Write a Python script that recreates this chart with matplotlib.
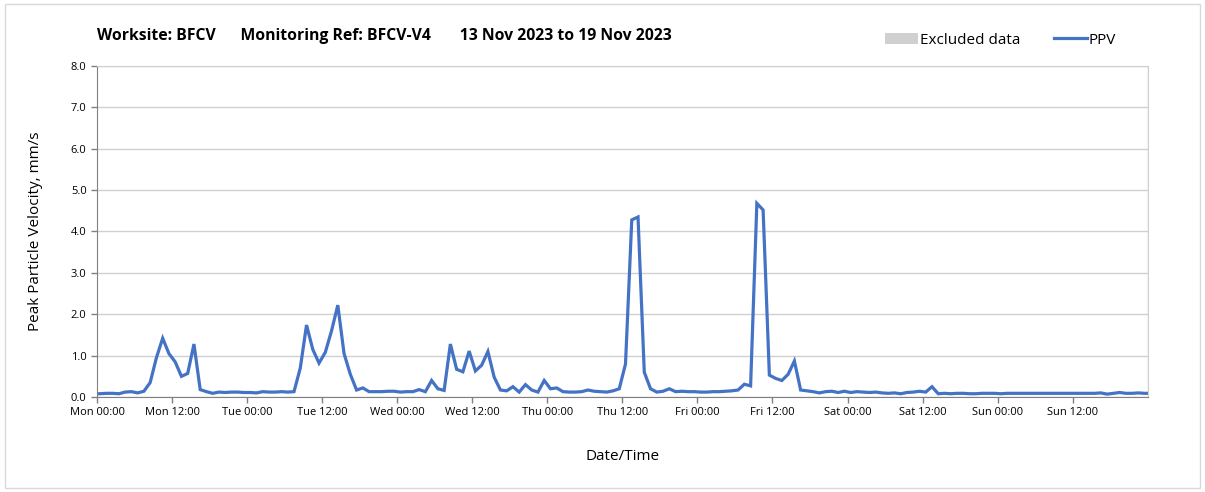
import numpy as np
import matplotlib
matplotlib.use("Agg")
import matplotlib.pyplot as plt
from matplotlib.patches import Patch, Rectangle
from matplotlib.lines import Line2D

plt.rcParams['font.family'] = ['Open Sans', 'DejaVu Sans']

# hours since Mon 00:00 (readings logged on the half hour), PPV in mm/s
hours = np.arange(169) + 0.5
ppv = [
    0.08, 0.09, 0.09, 0.08, 0.12, 0.13, 0.10, 0.14, 0.35, 0.95, 1.42, 1.05,
    0.85, 0.50, 0.57, 1.28, 0.18, 0.13, 0.09, 0.12, 0.11, 0.12, 0.12, 0.11,
    0.11, 0.10, 0.13, 0.12, 0.12, 0.13, 0.12, 0.13, 0.70, 1.74, 1.15, 0.82,
    1.08, 1.60, 2.22, 1.05, 0.55, 0.17, 0.22, 0.13, 0.13, 0.13, 0.14, 0.14,
    0.12, 0.13, 0.13, 0.18, 0.13, 0.40, 0.20, 0.16, 1.28, 0.67, 0.61, 1.11,
    0.63, 0.77, 1.10, 0.48, 0.17, 0.15, 0.25, 0.12, 0.30, 0.17, 0.12, 0.40,
    0.20, 0.22, 0.13, 0.12, 0.12, 0.13, 0.17, 0.14, 0.13, 0.12, 0.15, 0.20,
    0.80, 4.28, 4.35, 0.60, 0.20, 0.12, 0.14, 0.20, 0.13, 0.14, 0.13, 0.13,
    0.12, 0.12, 0.13, 0.13, 0.14, 0.15, 0.17, 0.31, 0.27, 4.68, 4.52, 0.53,
    0.45, 0.40, 0.55, 0.87, 0.17, 0.15, 0.13, 0.10, 0.13, 0.14, 0.11, 0.14,
    0.11, 0.13, 0.12, 0.11, 0.12, 0.10, 0.09, 0.10, 0.08, 0.11, 0.12, 0.14,
    0.12, 0.25, 0.08, 0.09, 0.08, 0.09, 0.09, 0.08, 0.08, 0.09, 0.09, 0.09,
    0.08, 0.09, 0.09, 0.09, 0.09, 0.09, 0.09, 0.09, 0.09, 0.09, 0.09, 0.09,
    0.09, 0.09, 0.09, 0.09, 0.10, 0.07, 0.09, 0.11, 0.09, 0.09, 0.10, 0.09,
    0.09,
]
tick_labels = ["Mon 00:00", "Mon 12:00", "Tue 00:00", "Tue 12:00", "Wed 00:00",
               "Wed 12:00", "Thu 00:00", "Thu 12:00", "Fri 00:00", "Fri 12:00",
               "Sat 00:00", "Sat 12:00", "Sun 00:00", "Sun 12:00"]

blue = '#4472C4'
fig = plt.figure(figsize=(12.05, 4.92), dpi=100)
fig.patches.append(Rectangle((0.004, 0.008), 0.992, 0.984, transform=fig.transFigure,
                             fill=False, edgecolor='#d9d9d9', lw=1))
ax = fig.add_axes([0.0805, 0.193, 0.872, 0.673])

ax.plot(np.r_[0, hours], np.r_[ppv[0], ppv], color=blue, lw=2.3, solid_joinstyle='miter')

ax.set_xlim(0, 168)
ax.set_ylim(0, 8)
ax.set_yticks(np.arange(0, 8.1, 1.0))
ax.set_yticklabels(["%.1f" % v for v in np.arange(0, 8.1, 1.0)], fontsize=8)
ax.set_xticks(np.arange(0, 168, 12))
ax.set_xticklabels(tick_labels, fontsize=8)
ax.set_xticks(np.arange(0, 169, 24), minor=True)

ax.grid(axis='y', color='#d0d0d0', lw=1)
ax.grid(axis='x', which='minor', color='#d0d0d0', lw=1)
ax.set_axisbelow(True)
ax.tick_params(axis='both', which='major', direction='out', length=4, color='#808080', width=1)
ax.tick_params(axis='x', which='minor', length=0)
for s in ['top', 'right']:
    ax.spines[s].set_color('#d0d0d0')
for s in ['left', 'bottom']:
    ax.spines[s].set_color('#808080')

ax.set_ylabel("Peak Particle Velocity, mm/s", fontsize=11, labelpad=20)
ax.set_xlabel("Date/Time", fontsize=11, labelpad=22)

fig.text(97 / 1205, 1 - 36 / 492,
         "Worksite: BFCV      Monitoring Ref: BFCV-V4       13 Nov 2023 to 19 Nov 2023",
         fontsize=11.3, fontweight='bold', va='center', ha='left')

handles = [Patch(facecolor='#d0d0d0', edgecolor='none'),
           Line2D([0], [0], color=blue, lw=2.3)]
fig.legend(handles, ["Excluded data", "PPV"], loc='center right', ncol=2,
           bbox_to_anchor=(1130 / 1205, 1 - 40 / 492), frameon=False, fontsize=11,
           handlelength=2.2, handletextpad=0.1, columnspacing=2.2)

fig.savefig("out.png", dpi=100)
